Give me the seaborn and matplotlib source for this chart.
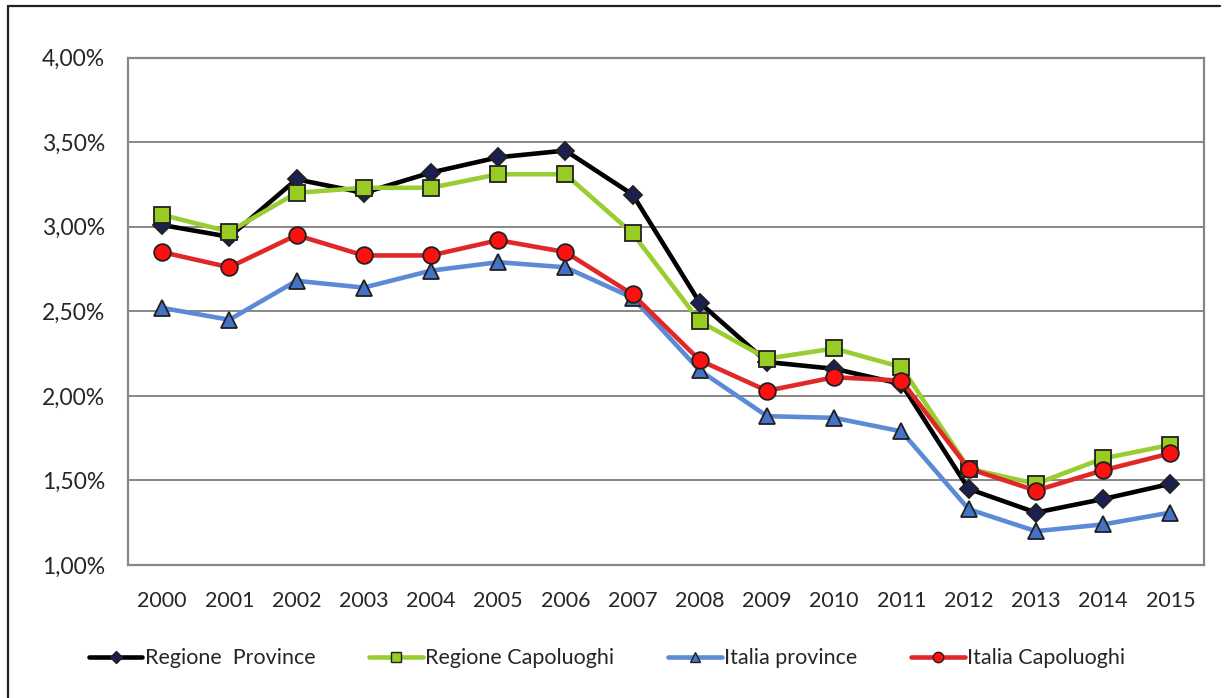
import matplotlib
matplotlib.use("Agg")
import matplotlib.pyplot as plt
import matplotlib.ticker as mticker
from matplotlib.lines import Line2D
import seaborn as sns
import pandas as pd

# dati (valori in %)
anni = [str(a) for a in range(2000, 2016)]
regione_province = [3.01, 2.94, 3.28, 3.20, 3.32, 3.41, 3.45, 3.19, 2.55, 2.20, 2.16, 2.07, 1.45, 1.31, 1.39, 1.48]
regione_capoluoghi = [3.07, 2.97, 3.20, 3.23, 3.23, 3.31, 3.31, 2.96, 2.44, 2.22, 2.28, 2.17, 1.57, 1.48, 1.63, 1.71]
italia_province = [2.52, 2.45, 2.68, 2.64, 2.74, 2.79, 2.76, 2.58, 2.15, 1.88, 1.87, 1.79, 1.33, 1.20, 1.24, 1.31]
italia_capoluoghi = [2.85, 2.76, 2.95, 2.83, 2.83, 2.92, 2.85, 2.60, 2.21, 2.03, 2.11, 2.09, 1.57, 1.44, 1.56, 1.66]

serie_nomi = ["Regione  Province", "Regione Capoluoghi", "Italia province", "Italia Capoluoghi"]
serie_valori = [regione_province, regione_capoluoghi, italia_province, italia_capoluoghi]

# stile: colore linea, marker, riempimento marker
stili = [
    ("#000000", "D", "#1c2050"),
    ("#9acd32", "s", "#99cc22"),
    ("#5b8ad6", "^", "#4472c4"),
    ("#e02828", "o", "#ff1010"),
]

sns.set_style("white")
plt.rcParams["font.family"] = ["Lato", "DejaVu Sans"]

fig = plt.figure(figsize=(12.26, 6.98), dpi=100)
ax = fig.add_axes([0.1048, 0.1905, 0.8772, 0.7271])

grigio = "#878787"
idx = list(range(len(anni)))
handles = []
for nome, valori, (col, mk, fc) in zip(serie_nomi, serie_valori, stili):
    df = pd.DataFrame({"x": idx, "y": valori})
    sns.lineplot(data=df, x="x", y="y", ax=ax, color=col, linewidth=3.3,
                 marker=mk, markersize=12 if mk != "D" else 9.5,
                 markerfacecolor=fc, markeredgecolor="#202020",
                 markeredgewidth=1.3, zorder=3)
    handles.append(Line2D([], [], color=col, linewidth=3.3, marker=mk,
                          markersize=7.5 if mk != "D" else 6,
                          markerfacecolor=fc, markeredgecolor="#202020",
                          markeredgewidth=1.0, label=nome))

ax.set_xlim(-0.5, len(anni) - 0.5)
ax.set_ylim(1.0, 4.0)
ax.yaxis.set_major_locator(mticker.MultipleLocator(0.5))
ax.yaxis.set_major_formatter(mticker.FuncFormatter(lambda v, p: f"{v:.2f}".replace(".", ",") + "%"))
ax.set_xticks(idx)
ax.set_xticklabels(anni)
ax.set_xticks([i - 0.5 for i in range(len(anni) + 1)], minor=True)
ax.tick_params(axis="x", which="major", length=0, pad=19, labelsize=15.5, labelcolor="#262626")
ax.tick_params(axis="x", which="minor", length=6, width=1.2, color=grigio, direction="out")
ax.tick_params(axis="y", which="major", length=5, width=1.2, color=grigio, direction="out",
               pad=12, labelsize=16.5, labelcolor="#262626")
ax.set_xlabel("")
ax.set_ylabel("")

ax.grid(axis="y", color=grigio, linewidth=1.4)
ax.grid(axis="x", visible=False)
for lato in ["left", "bottom", "right", "top"]:
    ax.spines[lato].set_visible(True)
    ax.spines[lato].set_color(grigio)
    ax.spines[lato].set_linewidth(1.6)

fig.legend(handles=handles, loc="center", bbox_to_anchor=(0.495, 0.057), ncol=4,
           frameon=False, fontsize=15.5, handlelength=2.5, columnspacing=2.5,
           handletextpad=0.1, labelcolor="#262626")

# cornice esterna (solo lati sinistro e superiore visibili)
fig.add_artist(Line2D([0.0065, 0.0065], [0.0, 0.9914], color="#222222", linewidth=1.6, transform=fig.transFigure))
fig.add_artist(Line2D([0.0065, 0.995], [0.9914, 0.9914], color="#222222", linewidth=1.6, transform=fig.transFigure))

fig.savefig("out.png", dpi=100, facecolor="white")
